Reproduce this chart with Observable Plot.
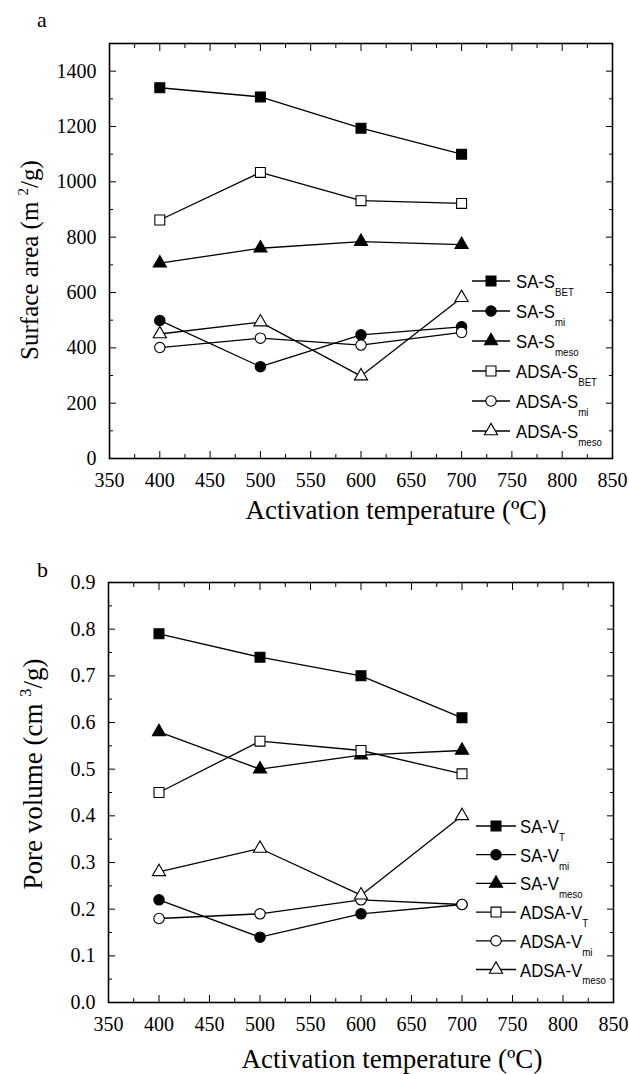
<!DOCTYPE html>
<html><head><meta charset="utf-8">
<script src="https://cdn.jsdelivr.net/npm/d3@7"></script>
<script src="https://cdn.jsdelivr.net/npm/@observablehq/plot@0.6"></script>
<style>
body{margin:0;background:#fff;}
#wrap{position:relative;width:629px;height:1074px;overflow:hidden;background:#fff;}
#wrap > svg{position:absolute;left:0;}
#overlay{position:absolute;left:0;top:0;pointer-events:none;}
</style>
</head><body>
<div id="wrap"></div>
<script>
// ---------- data ----------
const temps = [400, 500, 600, 700];
const xTicks = [350, 400, 450, 500, 550, 600, 650, 700, 750, 800, 850];
const xMinor = [375, 425, 475, 525, 575, 625, 675, 725, 775, 825];

// panel a: surface area (m2/g)
const saSBET    = [1340, 1307, 1194, 1100];
const saSmi     = [499, 332, 447, 476];
const saSmeso   = [706, 760, 784, 773];
const adsaSBET  = [862, 1034, 932, 922];
const adsaSmi   = [401, 435, 410, 456];
const adsaSmeso = [450, 493, 298, 581];
const yTicksA = [0, 200, 400, 600, 800, 1000, 1200, 1400];
const yMinorA = [100, 300, 500, 700, 900, 1100, 1300, 1500];

// panel b: pore volume (cm3/g)
const saVT      = [0.79, 0.74, 0.70, 0.61];
const saVmi     = [0.22, 0.14, 0.19, 0.21];
const saVmeso   = [0.58, 0.50, 0.53, 0.54];
const adsaVT    = [0.45, 0.56, 0.54, 0.49];
const adsaVmi   = [0.18, 0.19, 0.22, 0.21];
const adsaVmeso = [0.28, 0.33, 0.23, 0.40];
const yTicksB = [0, 0.1, 0.2, 0.3, 0.4, 0.5, 0.6, 0.7, 0.8, 0.9];
const yMinorB = [0.05, 0.15, 0.25, 0.35, 0.45, 0.55, 0.65, 0.75, 0.85];

const seriesA = [
  {name: "SA-S", sub: "BET", values: saSBET, symbol: "square", fill: "black"},
  {name: "SA-S", sub: "mi", values: saSmi, symbol: "circle", fill: "black"},
  {name: "SA-S", sub: "meso", values: saSmeso, symbol: "triangle", fill: "black"},
  {name: "ADSA-S", sub: "BET", values: adsaSBET, symbol: "square", fill: "white"},
  {name: "ADSA-S", sub: "mi", values: adsaSmi, symbol: "circle", fill: "white"},
  {name: "ADSA-S", sub: "meso", values: adsaSmeso, symbol: "triangle", fill: "white"}
];
const seriesB = [
  {name: "SA-V", sub: "T", values: saVT, symbol: "square", fill: "black"},
  {name: "SA-V", sub: "mi", values: saVmi, symbol: "circle", fill: "black"},
  {name: "SA-V", sub: "meso", values: saVmeso, symbol: "triangle", fill: "black"},
  {name: "ADSA-V", sub: "T", values: adsaVT, symbol: "square", fill: "white"},
  {name: "ADSA-V", sub: "mi", values: adsaVmi, symbol: "circle", fill: "white"},
  {name: "ADSA-V", sub: "meso", values: adsaVmeso, symbol: "triangle", fill: "white"}
];

const symR = {square: 5.6, circle: 5.2, triangle: 4.9};
const symD3 = {square: d3.symbolSquare, circle: d3.symbolCircle, triangle: d3.symbolTriangle};
const serif = "'Liberation Serif', 'Times New Roman', serif";
const sans = "'Liberation Sans', Arial, sans-serif";

function panel(series, o) {
  const ax = {label: null, fontFamily: serif, fontSize: 20, stroke: "black", color: "black"};
  const blank = () => "";
  const marks = [
    Plot.axisX(xTicks, {...ax, anchor: "bottom", tickSize: -7, tickPadding: 21, tickFormat: d => String(d)}),
    Plot.axisX(xMinor, {...ax, anchor: "bottom", tickSize: -4, tickFormat: blank}),
    Plot.axisX(xTicks, {...ax, anchor: "top", tickSize: -7, tickFormat: blank}),
    Plot.axisX(xMinor, {...ax, anchor: "top", tickSize: -4, tickFormat: blank}),
    Plot.axisY(o.yticks, {...ax, anchor: "left", tickSize: -7, tickPadding: 20, tickFormat: o.fmt}),
    Plot.axisY(o.yminor, {...ax, anchor: "left", tickSize: -4, tickFormat: blank}),
    Plot.axisY(o.yticks, {...ax, anchor: "right", tickSize: -7, tickFormat: blank}),
    Plot.axisY(o.yminor, {...ax, anchor: "right", tickSize: -4, tickFormat: blank})
  ];
  for (const s of series) {
    const d = s.values.map((v, i) => ({x: temps[i], y: v}));
    marks.push(Plot.line(d, {x: "x", y: "y", stroke: "black", strokeWidth: 1.3}));
  }
  for (const s of series) {
    const d = s.values.map((v, i) => ({x: temps[i], y: v}));
    marks.push(Plot.dot(d, {x: "x", y: "y", symbol: s.symbol, r: symR[s.symbol], fill: s.fill, stroke: "black", strokeWidth: 1.1}));
  }
  marks.push(Plot.frame({stroke: "black", strokeWidth: 1.6}));
  const svg = Plot.plot({
    width: 629, height: o.height,
    marginTop: o.mt, marginBottom: o.mb, marginLeft: o.ml, marginRight: o.mr,
    x: {domain: [350, 850]},
    y: {domain: o.ydomain},
    style: {fontFamily: serif, fontSize: "20px", color: "black", background: "white"},
    marks
  });
  svg.setAttribute("font-family", serif);
  svg.setAttribute("font-size", 20);
  d3.select(svg).selectAll("g[aria-label$='tick label']")
    .attr("font-family", serif).attr("font-size", 20)
    .style("font-family", serif).style("font-size", "20px");
  d3.select(svg).selectAll("text")
    .attr("font-family", serif).style("font-family", serif).style("font-size", "20px");
  svg.style.top = o.top + "px";
  return svg;
}

const wrap = document.getElementById("wrap");
wrap.appendChild(panel(seriesA, {top: 0, height: 540, mt: 43, mb: 82, ml: 109, mr: 17,
  ydomain: [0, 1500], yticks: yTicksA, yminor: yMinorA, fmt: d => String(d)}));
wrap.appendChild(panel(seriesB, {top: 540, height: 534, mt: 42, mb: 72, ml: 108, mr: 16,
  ydomain: [0, 0.9], yticks: yTicksB, yminor: yMinorB, fmt: d => d.toFixed(1)}));

// ---------- overlay: titles, panel letters, legends ----------
const ov = d3.select(wrap).append("svg").attr("id", "overlay").attr("width", 629).attr("height", 1074);

function letter(t, x, y) {
  ov.append("text").attr("x", x).attr("y", y).attr("font-family", serif).attr("font-size", 22).text(t);
}
letter("a", 37, 27);
letter("b", 37, 577);

function xTitle(cx, y) {
  ov.append("text").attr("x", cx).attr("y", y).attr("text-anchor", "middle")
    .attr("font-family", serif).attr("font-size", 27).text("Activation temperature (ºC)");
}
xTitle(396, 519);
xTitle(392, 1068);

function yTitle(x, cy, pre, sup, size) {
  const t = ov.append("text").attr("transform", `translate(${x},${cy}) rotate(-90)`)
    .attr("text-anchor", "middle").attr("font-family", serif).attr("font-size", size);
  t.append("tspan").text(pre);
  t.append("tspan").attr("dy", -size * 0.4).attr("font-size", size * 0.6).text(sup);
  t.append("tspan").attr("dy", size * 0.4).text("/g)");
}
yTitle(38, 260, "Surface area (m ", "2", 25);
yTitle(42, 774, "Pore volume (cm ", "3", 27);

function legend(series, x0, y0, step, lineLen, textX) {
  series.forEach((s, i) => {
    const y = y0 + i * step;
    const g = ov.append("g").attr("transform", `translate(${x0},${y})`);
    g.append("line").attr("x1", 0).attr("x2", lineLen).attr("y1", 0).attr("y2", 0)
      .attr("stroke", "black").attr("stroke-width", 1.3);
    const r = symR[s.symbol];
    g.append("path").attr("transform", `translate(${lineLen / 2},0)`)
      .attr("d", d3.symbol(symD3[s.symbol], r * r * Math.PI)())
      .attr("fill", s.fill).attr("stroke", "black").attr("stroke-width", 1.1);
    const t = g.append("text").attr("x", textX).attr("y", 7).attr("font-family", sans).attr("font-size", 19)
      .attr("transform", `scale(0.88,1)`);
    t.append("tspan").text(s.name);
    t.append("tspan").attr("dy", 8).attr("font-size", 11).text(s.sub);
  });
}
legend(seriesA, 472, 281, 30, 38, 44 / 0.88);
legend(seriesB, 476, 826, 28.7, 40, 44 / 0.88);
</script>
</body></html>
